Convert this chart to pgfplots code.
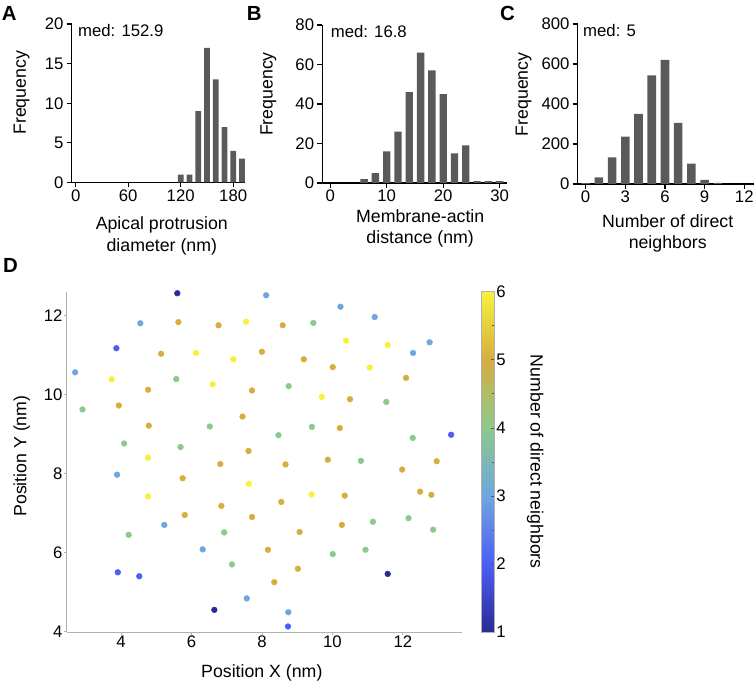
\documentclass[border=0pt]{standalone}
\usepackage{fontspec}
\setmainfont{Liberation Sans}
\usepackage{pgfplots}
\pgfplotsset{compat=1.18}
\pgfplotsset{/pgf/number format/assume math mode=true}
\definecolor{bargray}{HTML}{5A5A5A}
\newcommand{\fs}{\fontsize{16.8}{21.5}\selectfont}
\newcommand{\fl}{\fontsize{17.8}{21.7}\selectfont}
\pgfplotsset{
  histo/.style={
    scale only axis,
    axis lines*=left,
    ybar,
    ymin=0,
    tick align=outside,
    major tick length=5bp,
    tick style={black, line width=1.2bp},
    axis line style={black, line width=1.4bp},
    tick label style={font=\fs},
    label style={font=\fl},
    xticklabel style={inner sep=2bp},
    yticklabel style={inner sep=3bp},
    ylabel={Frequency},
    xlabel style={align=center, anchor=north, inner sep=0pt},
    ylabel style={anchor=center, inner sep=0pt},
    clip=false,
  },
  hbar/.style={fill=bargray, draw=none},
}
\begin{document}
\begin{tikzpicture}
\useasboundingbox (0,0) rectangle (755bp,682bp);
% Panel A
\begin{axis}[histo, at={(71.7bp,499.5bp)}, anchor=south west,
  width=173.3bp, height=158.5bp,
  xmin=-4.6, xmax=193.5, ymax=20,
  xtick={0,60,120,180}, ytick={0,5,10,15,20},
  bar width=6.5,
  xlabel={Apical protrusion\\diameter (nm)},
  xlabel style={at={(axis description cs:0.52,0)}, yshift=-34bp},
  ylabel style={at={(axis description cs:-0.2885,0.566)}}]
\addplot[hbar] coordinates {(120,1) (130,1) (140,9) (150,17) (160,13) (170,7) (180,4) (190,3)};
\node[anchor=north west, inner sep=0pt, font=\fs] at (rel axis cs:0.036,1) {med: 152.9};
\end{axis}
% Panel B
\begin{axis}[histo, at={(322.3bp,499bp)}, anchor=south west,
  width=184.7bp, height=158bp,
  xmin=-1.4, xmax=31.3, ymax=80,
  xtick={0,10,20,30}, ytick={0,20,40,60,80},
  bar width=1.3,
  xlabel={Membrane-actin\\distance (nm)},
  xlabel style={at={(axis description cs:0.53,0)}, yshift=-26bp},
  ylabel style={at={(axis description cs:-0.292,0.563)}}]
\addplot[hbar] coordinates {(6,2) (8,5) (10,16) (12,26) (14,46) (16,66) (18,57) (20,45) (22,15) (24,19) (26,1) (28,1) (30,1)};
\node[anchor=north west, inner sep=0pt, font=\fs] at (rel axis cs:0.045,1) {med: 16.8};
\end{axis}
% Panel C
\begin{axis}[histo, at={(577.7bp,498bp)}, anchor=south west,
  width=176.5bp, height=160bp,
  xmin=-0.6, xmax=12.75, ymax=800,
  xtick={0,3,6,9,12}, ytick={0,200,400,600,800},
  bar width=0.65,
  xlabel={Number of direct\\neighbors},
  xlabel style={at={(axis description cs:0.51,0)}, yshift=-30bp},
  ylabel style={at={(axis description cs:-0.307,0.56)}}]
\addplot[hbar] coordinates {(0,4) (1,33) (2,133) (3,237) (4,350) (5,543) (6,620) (7,305) (8,102) (9,20) (10,6)};
\node[anchor=north west, inner sep=0pt, font=\fs] at (rel axis cs:0.03,1) {med: 5};
\end{axis}
% Panel D
\begin{axis}[scale only axis, at={(66.7bp,50bp)}, anchor=south west,
  width=395bp, height=340.3bp,
  axis lines*=left,
  xmin=2.46, xmax=13.67, ymin=3.99, ymax=12.6,
  xtick={4,6,8,10,12}, ytick={4,6,8,10,12},
  tick align=outside, major tick length=3bp,
  tick style={gray!60, line width=0.8bp},
  axis line style={gray!60, line width=0.9bp},
  tick label style={font=\fs},
  label style={font=\fl},
  xticklabel style={inner sep=1bp},
  yticklabel style={inner sep=1bp},
  xlabel={Position X (nm)}, ylabel={Position Y (nm)},
  xlabel style={at={(axis description cs:0.494,0)}, anchor=north, inner sep=0pt, yshift=-32bp},
  ylabel style={at={(axis description cs:-0.114,0.517)}, anchor=center, inner sep=0pt},
  colormap={nbmap}{rgb255(1)=(43,43,150) rgb255(2)=(75,94,245) rgb255(3)=(111,166,224) rgb255(4)=(141,201,139) rgb255(5)=(214,174,64) rgb255(6)=(247,241,61)},
  point meta min=1, point meta max=6,
  colorbar,
  colorbar style={
    at={(parent axis.north east)}, anchor=north west, xshift=11bp,
    width=13bp,
    ytick={1,2,3,4,5,6}, minor ytick={1.5,2.5,3.5,4.5,5.5},
    ytick pos=right, yticklabel pos=right,
    tick align=inside, major tick length=3bp, minor tick length=2bp,
    tick style={gray!70!black, line width=0.6bp},
    axis line style={gray!60, line width=0.6bp},
    yticklabel style={font=\fs, inner sep=2bp},
    ylabel={Number of direct neighbors},
    ylabel style={font=\fl, rotate=180, at={(axis description cs:4.15,0.5)}, anchor=center, inner sep=0pt},
  },
  clip=false]
\addplot[scatter, only marks, mark=*, mark size=2.9bp, point meta=explicit,
  scatter/use mapped color={draw=mapped color, fill=mapped color}]
  table[meta=c] {
x y c
5.60 12.56 1
8.12 12.51 3
4.55 11.80 3
5.63 11.83 5
6.77 11.75 5
7.55 11.84 6
8.59 11.75 5
3.87 11.17 2
5.14 11.03 5
6.13 11.05 6
7.19 10.89 6
8.00 11.08 5
2.70 10.56 3
3.74 10.38 6
5.57 10.39 4
6.60 10.26 6
4.77 10.12 5
7.72 10.10 5
8.76 10.21 4
2.91 9.62 4
3.94 9.72 5
4.79 9.21 5
6.52 9.19 4
7.45 9.44 5
8.47 8.97 4
4.09 8.76 4
5.69 8.67 4
4.77 8.40 6
7.62 8.57 5
6.82 8.24 5
8.67 8.23 5
3.89 7.97 3
5.75 7.88 5
7.63 7.74 6
4.77 7.42 6
6.85 7.18 5
8.55 7.28 5
5.81 6.95 5
7.72 6.90 5
5.23 6.70 3
4.22 6.45 4
6.93 6.51 4
6.32 6.08 3
8.17 6.07 5
3.91 5.50 2
4.52 5.40 2
7.15 5.70 4
8.35 5.25 5
7.57 4.84 3
6.65 4.55 1
8.75 4.49 3
8.74 4.13 2
10.23 12.22 3
11.20 11.96 3
9.46 11.81 4
10.39 11.36 6
11.57 11.25 6
12.76 11.32 3
12.29 11.05 3
9.19 10.89 5
10.01 10.69 5
11.06 10.68 6
12.09 10.42 5
9.70 9.94 6
10.50 9.88 5
11.53 9.81 4
9.42 9.18 4
10.21 9.15 5
12.28 8.90 4
13.37 8.98 2
9.87 8.35 5
10.81 8.32 4
11.98 8.10 5
12.96 8.31 5
9.41 7.47 6
10.35 7.44 5
12.49 7.54 5
12.81 7.46 5
11.15 6.78 4
12.16 6.87 4
10.27 6.70 5
12.86 6.58 4
9.07 6.52 5
10.01 5.96 4
10.94 6.07 4
9.02 5.59 5
11.57 5.46 1
};
\end{axis}
% Panel letters
\node[anchor=base west, inner sep=0pt, font=\fontsize{20.5}{24}\selectfont\bfseries] at (1.7bp,661.3bp) {A};
\node[anchor=base west, inner sep=0pt, font=\fontsize{20.5}{24}\selectfont\bfseries] at (246.7bp,661.3bp) {B};
\node[anchor=base west, inner sep=0pt, font=\fontsize{20.5}{24}\selectfont\bfseries] at (500bp,661.3bp) {C};
\node[anchor=base west, inner sep=0pt, font=\fontsize{20.5}{24}\selectfont\bfseries] at (3bp,409.5bp) {D};
\end{tikzpicture}
\end{document}
